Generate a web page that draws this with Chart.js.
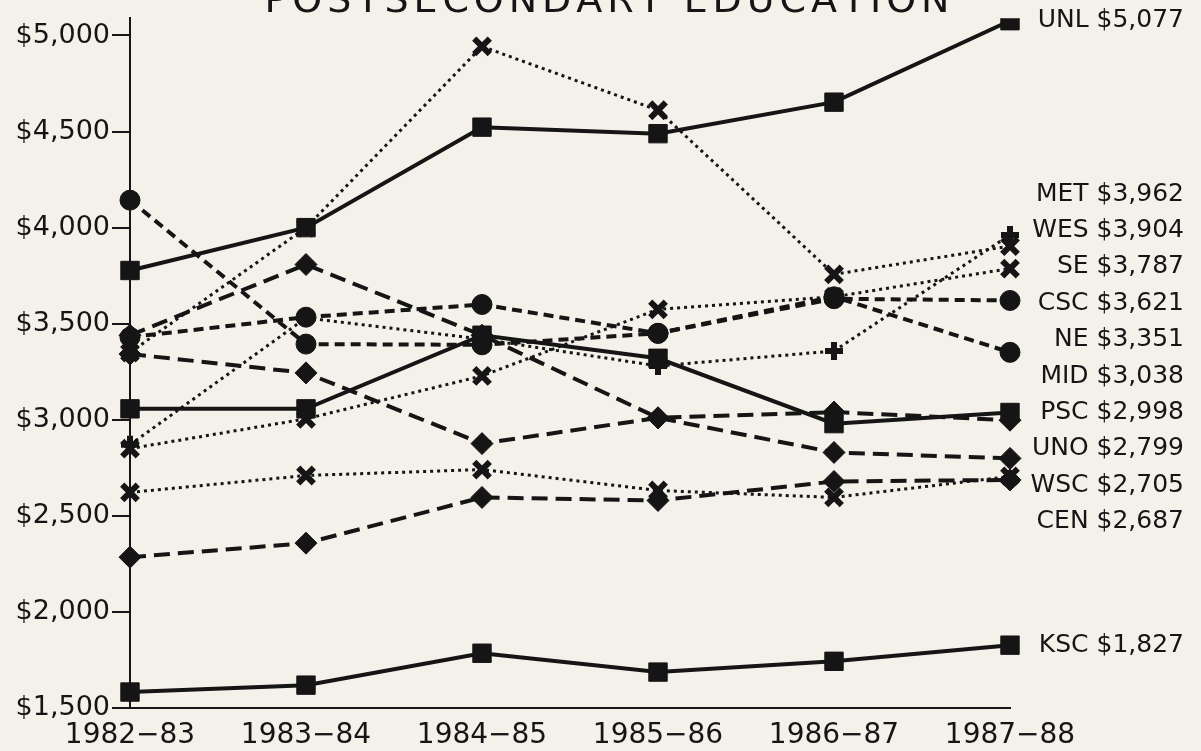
<!DOCTYPE html>
<html>
<head>
<meta charset="utf-8">
<script src="https://cdn.jsdelivr.net/npm/chart.js@4.4.0/dist/chart.umd.min.js"></script>
<style>
  html, body { margin: 0; padding: 0; background: #f4f1ea; }
  canvas { display: block; }
</style>
</head>
<body>
<canvas id="costChart" width="1201" height="751"></canvas>
<script>
// cost per student by school year
const years = ['1982\u221283', '1983\u221284', '1984\u221285', '1985\u221286', '1986\u221287', '1987\u221288'];
const yTicks = [1500, 2000, 2500, 3000, 3500, 4000, 4500, 5000];

const unl = [3777, 4000, 4523, 4489, 4653, 5077];
const met = [2870, 3530, 3420, 3280, 3358, 3962];
const wes = [3350, 4000, 4943, 4611, 3757, 3904];
const se  = [2850, 3005, 3228, 3575, 3640, 3787];
const csc = [3430, 3534, 3600, 3450, 3630, 3621];
const ne  = [4143, 3394, 3390, 3450, 3640, 3351];
const mid = [3057, 3057, 3440, 3320, 2980, 3038];
const psc = [3342, 3244, 2876, 3010, 3040, 2998];
const uno = [3440, 3808, 3440, 3010, 2830, 2799];
const wsc = [2622, 2710, 2741, 2632, 2596, 2705];
const cen = [2285, 2358, 2596, 2580, 2679, 2687];
const ksc = [1583, 1619, 1785, 1687, 1743, 1827];

const ink = '#151515';
const paper = '#f4f1ea';
const titleText = 'POSTSECONDARY EDUCATION';

const solid = [];
const dotted = [3, 4];
const shortDash = [10, 6];
const longDash = [16, 8];

function series(name, data, dash, marker, radius) {
  const isCross = marker === 'crossRot' || marker === 'cross';
  return {
    label: name,
    data: data,
    borderColor: ink,
    backgroundColor: ink,
    borderWidth: dash === dotted ? 3 : 4,
    borderDash: dash,
    pointStyle: marker,
    pointRadius: radius,
    pointBorderWidth: isCross ? 6 : 1,
    pointBackgroundColor: ink,
    pointBorderColor: ink,
    tension: 0
  };
}

const paperFill = {
  id: 'paperFill',
  beforeDraw(chart) {
    const ctx = chart.ctx;
    ctx.save();
    ctx.fillStyle = paper;
    ctx.fillRect(0, 0, chart.width, chart.height);
    ctx.restore();
  }
};

// title sits partly above the page edge in the scan
const clippedTitle = {
  id: 'clippedTitle',
  afterDraw(chart) {
    const ctx = chart.ctx;
    ctx.save();
    ctx.font = '38px "DejaVu Sans"';
    ctx.fillStyle = ink;
    ctx.textBaseline = 'alphabetic';
    const chars = titleText.split('');
    const widths = chars.map(c => ctx.measureText(c).width);
    const total = widths.reduce((a, b) => a + b, 0);
    const span = 685;
    const spacing = (span - total) / (chars.length - 1);
    let x = 607 - span / 2;
    chars.forEach((c, i) => {
      ctx.fillText(c, x, 12);
      x += widths[i] + spacing;
    });
    ctx.restore();
  }
};

// names and last values to the right of the lines, pushed apart so they don't overlap
const endLabels = {
  id: 'endLabels',
  afterDatasetsDraw(chart) {
    const ctx = chart.ctx;
    const yScale = chart.scales.y;
    const items = chart.data.datasets.map(ds => {
      const v = ds.data[ds.data.length - 1];
      return { text: ds.label + ' $' + v.toLocaleString('en-US'), pos: yScale.getPixelForValue(v) };
    }).sort((a, b) => a.pos - b.pos);
    const gap = 36.4;
    for (let k = 0; k < 300; k++) {
      for (let i = 1; i < items.length; i++) {
        const d = items[i].pos - items[i - 1].pos;
        if (d < gap) {
          const s = (gap - d) / 2;
          items[i - 1].pos -= s;
          items[i].pos += s;
        }
      }
    }
    ctx.save();
    ctx.font = '25px "DejaVu Sans"';
    ctx.fillStyle = ink;
    ctx.textAlign = 'right';
    ctx.textBaseline = 'middle';
    items.forEach((it, i) => {
      // the crowded block sits a little higher in the original
      const prev = i > 0 ? it.pos - items[i - 1].pos : Infinity;
      const next = i < items.length - 1 ? items[i + 1].pos - it.pos : Infinity;
      const nudge = Math.min(prev, next) < gap + 1 ? -7 : 0;
      ctx.fillText(it.text, chart.width - 17, it.pos + nudge);
    });
    ctx.restore();
  }
};

const ctx = document.getElementById('costChart').getContext('2d');
new Chart(ctx, {
  type: 'line',
  data: {
    labels: years,
    datasets: [
      series('UNL', unl, solid, 'rect', 13),
      series('MET', met, dotted, 'cross', 9),
      series('WES', wes, dotted, 'crossRot', 11),
      series('SE', se, dotted, 'crossRot', 11),
      series('CSC', csc, shortDash, 'circle', 10),
      series('NE', ne, shortDash, 'circle', 10),
      series('MID', mid, solid, 'rect', 13),
      series('PSC', psc, longDash, 'rectRot', 11),
      series('UNO', uno, longDash, 'rectRot', 11),
      series('WSC', wsc, dotted, 'crossRot', 11),
      series('CEN', cen, longDash, 'rectRot', 11),
      series('KSC', ksc, solid, 'rect', 13)
    ]
  },
  options: {
    responsive: false,
    animation: false,
    layout: {
      padding: { left: 5, right: 191, top: 16, bottom: 0 }
    },
    plugins: {
      legend: { display: false },
      tooltip: { enabled: false }
    },
    scales: {
      x: {
        type: 'category',
        offset: false,
        grid: { display: false, drawTicks: false },
        border: { display: true, color: ink, width: 2 },
        ticks: {
          color: ink,
          font: { family: 'DejaVu Sans', size: 28 },
          padding: 11,
          maxRotation: 0,
          autoSkip: false
        },
        afterFit(scale) {
          scale.height = 43;
        }
      },
      y: {
        min: 1500,
        max: 5090,
        afterBuildTicks(scale) {
          scale.ticks = yTicks.map(v => ({ value: v }));
        },
        afterFit(scale) {
          scale.width = 125;
        },
        grid: {
          display: true,
          drawOnChartArea: false,
          drawTicks: true,
          tickLength: 18,
          color: ink,
          lineWidth: 2
        },
        border: { display: true, color: ink, width: 2 },
        ticks: {
          color: ink,
          font: { family: 'DejaVu Sans', size: 27 },
          padding: 2,
          callback: v => '$' + v.toLocaleString('en-US')
        }
      }
    }
  },
  plugins: [paperFill, clippedTitle, endLabels]
});
</script>
</body>
</html>
